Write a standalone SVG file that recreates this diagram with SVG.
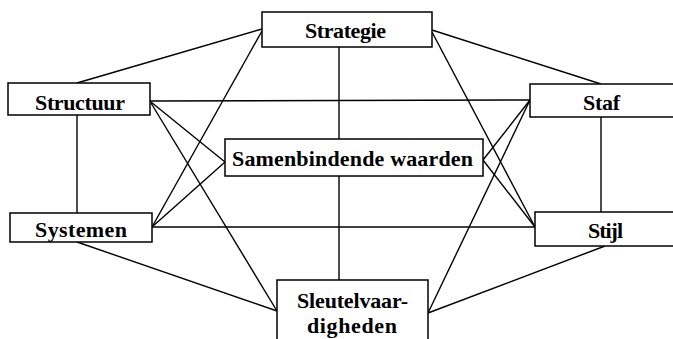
<svg xmlns="http://www.w3.org/2000/svg" width="673" height="339" viewBox="0 0 673 339">
<style>
.box{fill:#fff;stroke:#000;stroke-width:1.5}
.lbl{font-family:"Liberation Serif","Times New Roman",serif;font-weight:bold;font-size:22px;fill:#000}
.con line{stroke:#000;stroke-width:1.4}
</style>
<rect width="673" height="339" fill="#fff"/>
<g id="connectors" class="con">
<line x1="262" y1="29" x2="77" y2="83"/>
<line x1="262" y1="31" x2="152" y2="227"/>
<line x1="339" y1="47" x2="339" y2="139"/>
<line x1="339" y1="176" x2="339" y2="280"/>
<line x1="432" y1="30" x2="601" y2="84"/>
<line x1="432" y1="32" x2="535" y2="227"/>
<line x1="150" y1="101" x2="530" y2="100"/>
<line x1="151" y1="102" x2="225" y2="162"/>
<line x1="151" y1="103" x2="277" y2="311"/>
<line x1="152" y1="227" x2="225" y2="162"/>
<line x1="152" y1="227" x2="535" y2="227"/>
<line x1="77" y1="242" x2="277" y2="311"/>
<line x1="77" y1="115" x2="77" y2="213"/>
<line x1="601" y1="117" x2="601" y2="212"/>
<line x1="530" y1="100" x2="483" y2="160"/>
<line x1="530" y1="100" x2="428" y2="313"/>
<line x1="483" y1="160" x2="535" y2="227"/>
<line x1="605" y1="246" x2="428" y2="313"/>
</g>
<g id="strategie"><rect class="box" x="262" y="12" width="170" height="35"/><text class="lbl" x="305" y="38" textLength="81">Strategie</text></g>
<g id="structuur"><rect class="box" x="8" y="83" width="142" height="32"/><text class="lbl" x="35" y="110" textLength="90">Structuur</text></g>
<g id="staf"><rect class="box" x="530" y="84" width="150" height="33"/><text class="lbl" x="583" y="110" textLength="37">Staf</text></g>
<g id="samenbindende-waarden"><rect class="box" x="225" y="139" width="258" height="37"/><text class="lbl" x="232" y="166" textLength="241">Samenbindende waarden</text></g>
<g id="systemen"><rect class="box" x="10" y="213" width="142" height="29"/><text class="lbl" x="35" y="237" textLength="92">Systemen</text></g>
<g id="stijl"><rect class="box" x="535" y="212" width="145" height="34"/><text class="lbl" x="588" y="238" textLength="35">Stijl</text></g>
<g id="sleutelvaardigheden"><rect class="box" x="277" y="280" width="151" height="70"/><text class="lbl" x="297" y="308" textLength="111">Sleutelvaar-</text><text class="lbl" x="307" y="333" textLength="90">digheden</text></g>
</svg>
